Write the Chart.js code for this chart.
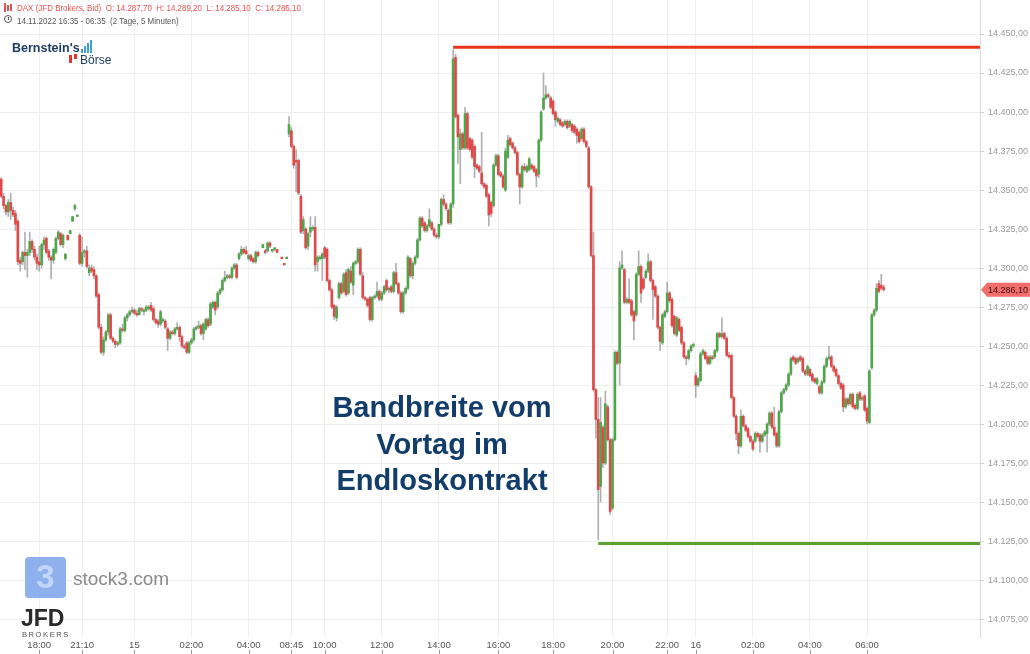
<!DOCTYPE html>
<html><head><meta charset="utf-8">
<script src="https://cdn.jsdelivr.net/npm/chart.js@4.4.0/dist/chart.umd.min.js"></script>
<style>
html,body{margin:0;padding:0;background:#fff;}
#wrap{position:relative;width:1030px;height:654px;overflow:hidden;font-family:"Liberation Sans",Arial,sans-serif;}
#c{position:absolute;left:0;top:0;}
.ov{position:absolute;white-space:pre;line-height:1;}
.nar{transform:scaleX(0.84);transform-origin:0 50%;}
</style></head><body>
<div id="wrap">
<canvas id="c" width="1030" height="654"></canvas>

<div class="ov" style="left:4px;top:3px;width:2px;height:9px;background:#e8534f"></div>
<div class="ov" style="left:7px;top:5px;width:2px;height:6px;background:#e8534f"></div>
<div class="ov" style="left:10px;top:4px;width:2px;height:7px;background:#e8534f"></div>
<div class="ov nar" style="left:17px;top:3px;font-size:9.5px;color:#e8534f;">DAX (JFD Brokers, Bid)  O: 14.287,70  H: 14.289,20  L: 14.285,10  C: 14.286,10</div>
<div class="ov" style="left:4px;top:15px;width:6px;height:6px;border:1.2px solid #555;border-radius:50%;"></div>
<div class="ov" style="left:7.5px;top:17px;width:1px;height:3px;background:#555"></div>
<div class="ov nar" style="left:17px;top:16px;font-size:9.5px;color:#555;">14.11.2022 16:35 - 06:35  (2 Tage, 5 Minuten)</div>

<div class="ov" style="left:12px;top:42px;font-size:12.5px;font-weight:bold;color:#1f3d63;">Bernstein's</div>
<div class="ov" style="left:81px;top:49px;width:2px;height:4px;background:#3ba3e0"></div>
<div class="ov" style="left:84px;top:46px;width:2px;height:7px;background:#3ba3e0"></div>
<div class="ov" style="left:87px;top:43px;width:2px;height:10px;background:#3ba3e0"></div>
<div class="ov" style="left:90px;top:40px;width:2px;height:13px;background:#3ba3e0"></div>
<div class="ov" style="left:69px;top:55px;width:3px;height:8px;background:#e3342f"></div>
<div class="ov" style="left:74px;top:54px;width:3px;height:5px;background:#e3342f"></div>
<div class="ov" style="left:80px;top:54px;font-size:12px;color:#1f3d63;">Börse</div>

<div class="ov" style="left:290px;top:389px;width:304px;text-align:center;font-size:29px;font-weight:bold;color:#123d6a;line-height:36.5px;white-space:normal;">Bandbreite vom<br>Vortag im<br>Endloskontrakt</div>

<div class="ov" style="left:25px;top:557px;width:41px;height:41px;border-radius:4px;background:#8eb1ee;"></div>
<div class="ov" style="left:25px;top:560px;width:41px;text-align:center;font-size:33px;font-weight:bold;color:#c3d6f7;">3</div>
<div class="ov" style="left:73px;top:569px;font-size:19px;color:#8a8a8a;">stock3.com</div>
<div class="ov" style="left:21px;top:607px;font-size:23px;font-weight:bold;color:#2a2a2a;">JFD</div>
<div class="ov" style="left:22px;top:631px;font-size:7.5px;letter-spacing:1.6px;color:#555;">BROKERS</div>
</div>
<script>
// time axis: candle index of each labelled time
const timeTickIndex  = [16, 34, 56, 80, 104, 122, 136, 160, 184, 209, 232, 257, 280, 292, 316, 340, 364];
const timeTickLabels = ['18:00','21:10','15','02:00','04:00','08:45','10:00','12:00','14:00','16:00','18:00','20:00','22:00','16','02:00','04:00','06:00'];

// previous-day range (Bandbreite vom Vortag)
const rangeHigh = 14441.5, rangeHighFrom = 190;
const rangeLow = 14123.5, rangeLowFrom = 251;

const opens = [
14357,14346,14340,14336,14342,14337,14335,14330,14305,14304,
14310,14308,14310,14317,14312,14307,14304,14302,14315,14319,
14311,14307,14305,14310,14319,14322,14315,14306,14321,14322,
14330,14338,14333,14321,14303,14310,14311,14297,14300,14299,
14295,14283,14262,14246,14254,14259,14270,14255,14253,14251,
14252,14261,14260,14268,14270,14272,14273,14271,14270,14274,
14272,14273,14274,14276,14274,14267,14266,14264,14266,14266,
14261,14255,14259,14258,14261,14262,14256,14250,14252,14246,
14252,14254,14261,14262,14263,14258,14261,14267,14264,14275,
14278,14275,14284,14286,14292,14294,14295,14294,14300,14302,
14306,14309,14312,14311,14306,14308,14306,14304,14310,null,
14313,14311,14311,14316,14311,14312,14312,null,14307,14303,
14306,14386,14388,14378,14369,14369,14346,14324,14325,14314,
14323,14325,14326,14304,14306,14306,14313,14312,14292,14286,
14276,14268,14281,14290,14285,14297,14284,14298,14289,14303,
14304,14312,14295,14281,14280,14281,14267,14281,14282,14285,
14280,14284,14292,14286,14288,14285,14297,14290,14284,14272,
14284,14287,14306,14295,14303,14307,14318,14332,14329,14324,
14327,14329,14325,14321,14320,14328,14344,14341,14337,14329,
14341,14435,14398,14376,14386,14377,14399,14383,14382,14378,
14366,14365,14361,14354,14353,14347,14342,14340,14366,14372,
14361,14359,14350,14371,14383,14380,14377,14374,14360,14352,
14365,14362,14363,14366,14365,14363,14360,14382,14402,14409,
14411,14409,14407,14400,14394,14395,14393,14392,14394,14391,
14392,14391,14389,14387,14383,14389,14381,14377,14352,14308,
14222,14203,14160,14198,14175,14211,14190,14146,14190,14246,
14239,14300,14299,14278,14280,14279,14272,14270,14296,14301,
14293,14294,14298,14304,14292,14288,14282,14262,14252,14269,
14272,14284,14280,14269,14257,14267,14262,14252,14243,14242,
14247,14250,14231,14225,14228,14245,14246,14243,14239,14243,
14243,14247,14258,14256,14258,14255,14244,14244,14217,14205,
14194,14186,14205,14199,14197,14192,14189,14189,14194,14193,
14189,14193,14194,14200,14207,14198,14194,14186,14208,14220,
14222,14225,14232,14243,14242,14240,14243,14242,14234,14232,
14235,14232,14229,14226,14224,14220,14227,14237,14242,14243,
14237,14235,14231,14226,14225,14211,14216,14213,14219,14212,
14210,14220,14216,14218,14210,14201,14236,14270,14273,14290,
14289,14287.7];

const highs = [
14358,14348,14341,14344,14348,14339,14337,14331,14307,14311,
14323,14312,14323,14318,14314,14309,14314,14316,14320,14320,
14312,14308,14313,14320,14324,14323,14322,14309,14321,14324,
14333,14341,14334,14322,14320,14312,14314,14302,14302,14301,
14296,14284,14264,14256,14260,14271,14271,14256,14254,14253,
14262,14264,14269,14271,14273,14275,14274,14273,14275,14275,
14274,14276,14276,14278,14275,14268,14267,14273,14268,14267,
14262,14260,14260,14262,14265,14263,14257,14251,14253,14253,
14255,14262,14263,14266,14264,14265,14268,14268,14278,14279,
14279,14285,14287,14293,14298,14296,14296,14301,14303,14303,
14310,14314,14313,14314,14309,14309,14307,14311,14311,null,
14315,14312,14317,14317,14312,14313,14312,null,14307,14303,
14307,14397,14390,14379,14376,14370,14347,14333,14326,14323,
14333,14327,14333,14308,14308,14310,14314,14313,14293,14287,
14277,14276,14291,14291,14297,14299,14300,14301,14304,14305,
14313,14313,14297,14282,14281,14282,14282,14283,14291,14286,
14285,14289,14293,14288,14289,14298,14303,14291,14285,14285,
14288,14308,14307,14304,14308,14319,14333,14333,14330,14328,
14338,14330,14326,14322,14328,14345,14347,14342,14338,14342,
14440,14437,14399,14389,14387,14403,14400,14384,14383,14379,
14367,14366,14387,14355,14354,14348,14343,14367,14373,14373,
14362,14360,14377,14385,14384,14381,14378,14375,14361,14366,
14367,14366,14371,14367,14366,14364,14383,14401,14425,14417,
14412,14410,14408,14401,14397,14396,14394,14395,14395,14395,
14393,14392,14390,14388,14390,14390,14382,14378,14353,14323,
14223,14217,14217,14199,14221,14212,14191,14191,14247,14247,
14304,14311,14300,14281,14293,14280,14273,14297,14311,14302,
14294,14299,14309,14305,14293,14289,14283,14263,14271,14273,
14291,14285,14281,14270,14269,14268,14263,14253,14244,14248,
14251,14252,14233,14230,14246,14248,14247,14244,14244,14244,
14248,14259,14259,14268,14259,14256,14246,14245,14218,14206,
14195,14209,14206,14200,14198,14193,14190,14195,14195,14194,
14194,14196,14201,14208,14208,14211,14195,14209,14221,14223,
14226,14233,14243,14244,14243,14243,14244,14243,14235,14238,
14236,14233,14230,14230,14225,14228,14238,14243,14250,14244,
14238,14236,14232,14227,14226,14217,14217,14220,14220,14213,
14220,14221,14218,14219,14211,14235,14271,14274,14290,14292,
14296,14289.2];

const lows = [
14345,14338,14334,14333,14331,14333,14324,14302,14298,14302,
14299,14294,14308,14310,14305,14299,14298,14300,14312,14309,
14305,14293,14303,14309,14318,14314,14313,14305,14318,14322,
14330,14337,14333,14302,14301,14307,14300,14295,14297,14293,
14281,14261,14245,14244,14253,14257,14254,14252,14249,14250,
14251,14259,14259,14266,14269,14271,14270,14269,14270,14272,
14270,14272,14273,14272,14266,14264,14262,14263,14265,14261,
14247,14254,14257,14257,14260,14253,14249,14248,14245,14245,
14251,14253,14260,14261,14257,14254,14260,14262,14263,14274,
14270,14274,14283,14285,14291,14293,14293,14293,14299,14293,
14305,14308,14309,14309,14305,14304,14303,14303,14307,null,
14313,14309,14310,14313,14310,14311,14310,null,14306,14302,
14306,14384,14377,14364,14349,14347,14322,14322,14312,14312,
14320,14324,14298,14298,14305,14292,14306,14291,14285,14274,
14267,14266,14280,14283,14284,14282,14283,14290,14283,14302,
14303,14295,14280,14279,14275,14266,14266,14280,14281,14279,
14279,14283,14285,14284,14284,14284,14289,14283,14271,14271,
14283,14286,14294,14293,14302,14306,14317,14326,14323,14323,
14326,14324,14320,14319,14319,14327,14340,14337,14328,14328,
14339,14396,14367,14354,14376,14376,14376,14375,14370,14358,
14363,14361,14353,14351,14345,14327,14333,14339,14365,14359,
14358,14351,14349,14370,14378,14376,14373,14359,14341,14351,
14362,14361,14362,14363,14361,14352,14358,14381,14401,14408,
14409,14402,14398,14391,14393,14391,14390,14391,14389,14390,
14387,14386,14380,14380,14382,14380,14377,14351,14307,14221,
14191,14126,14150,14172,14174,14189,14142,14145,14189,14238,
14225,14299,14277,14277,14277,14269,14254,14269,14295,14278,
14286,14293,14297,14291,14267,14281,14261,14247,14251,14268,
14271,14278,14262,14257,14256,14259,14251,14242,14238,14241,
14246,14249,14217,14224,14227,14244,14241,14238,14238,14241,
14242,14246,14255,14255,14254,14243,14242,14216,14204,14190,
14181,14185,14198,14195,14191,14188,14183,14188,14191,14182,
14188,14192,14182,14199,14197,14192,14185,14185,14207,14219,
14221,14224,14231,14240,14238,14239,14240,14233,14231,14231,
14230,14227,14226,14225,14219,14219,14226,14236,14241,14236,
14233,14230,14225,14222,14208,14210,14212,14212,14210,14209,
14209,14215,14215,14208,14200,14200,14235,14269,14272,14284,
14286,14285.1];

const closes = [
14346,14340,14336,14342,14337,14334,14328,14304,14303,14310,
14308,14310,14317,14312,14307,14303,14302,14315,14318,14310,
14307,14305,14312,14319,14323,14315,14321,14309,14318,14324,
14333,14340,14334,14303,14310,14311,14301,14300,14298,14295,
14282,14262,14246,14254,14259,14270,14255,14253,14251,14252,
14261,14260,14268,14270,14272,14273,14271,14270,14274,14273,
14273,14275,14275,14273,14267,14265,14264,14272,14267,14262,
14255,14259,14258,14261,14262,14256,14250,14249,14246,14252,
14254,14261,14262,14263,14258,14264,14267,14263,14277,14278,
14273,14284,14286,14292,14294,14295,14294,14300,14302,14294,
14309,14312,14310,14309,14308,14305,14304,14310,14308,null,
14315,14310,14316,14314,14312,14313,14310,null,14306,14302,
14307,14392,14378,14366,14368,14348,14323,14331,14313,14322,
14326,14326,14302,14307,14307,14309,14307,14292,14286,14275,
14269,14275,14290,14284,14296,14283,14299,14291,14303,14304,
14312,14296,14281,14280,14276,14267,14281,14282,14285,14280,
14284,14288,14286,14287,14285,14297,14290,14284,14272,14284,
14287,14307,14295,14303,14307,14318,14332,14327,14324,14327,
14331,14325,14321,14320,14328,14344,14341,14338,14329,14341,
14434,14397,14384,14386,14377,14399,14377,14376,14371,14365,
14364,14362,14354,14352,14346,14334,14335,14366,14372,14360,
14359,14352,14375,14382,14379,14377,14374,14360,14352,14365,
14363,14365,14370,14364,14362,14359,14382,14400,14409,14411,
14410,14403,14399,14395,14396,14392,14391,14394,14390,14394,
14388,14387,14385,14381,14389,14381,14378,14352,14308,14222,
14203,14158,14201,14175,14213,14190,14144,14190,14246,14239,
14300,14302,14278,14280,14278,14270,14266,14296,14301,14284,
14287,14298,14304,14292,14286,14282,14262,14253,14270,14272,
14284,14279,14263,14258,14268,14260,14252,14243,14242,14247,
14250,14251,14225,14229,14245,14247,14242,14239,14243,14242,
14247,14258,14256,14258,14255,14244,14243,14217,14205,14194,
14186,14205,14199,14196,14192,14189,14184,14194,14192,14189,
14193,14195,14200,14207,14198,14193,14186,14208,14220,14222,
14225,14232,14242,14241,14239,14242,14241,14234,14232,14237,
14231,14228,14227,14229,14220,14227,14237,14242,14243,14237,
14234,14231,14226,14223,14211,14216,14213,14219,14211,14210,
14219,14216,14217,14209,14202,14234,14270,14273,14287,14285,
14287,14286.1];

function fmtDe(v) {
  const s = Number(v).toFixed(2).split('.');
  return s[0].replace(/\B(?=(\d{3})+(?!\d))/g, '.') + ',' + s[1];
}

const UP = '#4fa54a', DOWN = '#e14848';
const idx = opens.map((o, i) => i).filter(i => opens[i] !== null);
const wickData = idx.map(i => ({x: i, y: [lows[i], highs[i]]}));
const bodyData = idx.map(i => ({x: i, y: [opens[i], closes[i]]}));
const bodyColors = idx.map(i => closes[i] >= opens[i] ? UP : DOWN);
const lastIdx = closes.length - 1;

const priceTag = {
  id: 'priceTag',
  afterDraw(chart) {
    const ys = chart.scales.y, xs = chart.scales.x, ctx = chart.ctx;
    // small tick marks under the time labels
    ctx.save();
    ctx.strokeStyle = '#999';
    ctx.lineWidth = 1;
    timeTickIndex.forEach(v => {
      const px = Math.round(xs.getPixelForValue(v)) + 0.5;
      ctx.beginPath(); ctx.moveTo(px, 650); ctx.lineTo(px, 654); ctx.stroke();
    });
    // last price tag
    const y = ys.getPixelForValue(closes[lastIdx]);
    const x0 = chart.chartArea.right + 1;
    ctx.fillStyle = '#f26d6b';
    ctx.beginPath();
    ctx.moveTo(x0, y);
    ctx.lineTo(x0 + 6, y - 7);
    ctx.lineTo(1030, y - 7);
    ctx.lineTo(1030, y + 7);
    ctx.lineTo(x0 + 6, y + 7);
    ctx.closePath();
    ctx.fill();
    ctx.fillStyle = '#3a1010';
    ctx.font = '9px "Liberation Sans", Arial, sans-serif';
    ctx.textBaseline = 'middle';
    ctx.textAlign = 'left';
    ctx.fillText(fmtDe(closes[lastIdx]), x0 + 7, y + 0.5);
    ctx.restore();
  }
};

Chart.defaults.font.family = '"Liberation Sans", Arial, sans-serif';

new Chart(document.getElementById('c'), {
  type: 'bar',
  data: {
    datasets: [
      {type: 'line', data: [{x: rangeHighFrom, y: rangeHigh}, {x: 411.5, y: rangeHigh}], borderColor: '#e8341c', borderWidth: 3, pointRadius: 0, order: 1},
      {type: 'line', data: [{x: rangeLowFrom, y: rangeLow}, {x: 411.5, y: rangeLow}], borderColor: '#5c9e31', borderWidth: 3, pointRadius: 0, order: 1},
      {data: bodyData, backgroundColor: bodyColors, barThickness: 2, grouped: false, minBarLength: 1, order: 2},
      {data: wickData, backgroundColor: 'rgba(150,150,150,0.75)', barThickness: 1, grouped: false, order: 3}
    ]
  },
  options: {
    responsive: false,
    animation: false,
    layout: {padding: 0},
    plugins: {legend: {display: false}, tooltip: {enabled: false}},
    scales: {
      x: {
        type: 'linear', min: -0.5, max: 411.5, offset: false,
        grid: {color: '#efefef', drawTicks: false, offset: false},
        border: {display: false},
        afterBuildTicks: s => { s.ticks = timeTickIndex.map(v => ({value: v})); },
        afterFit: s => { s.height = 17; s.paddingLeft = 0; s.paddingRight = 0; },
        ticks: {autoSkip: false, maxRotation: 0, padding: 3, color: '#555', font: {size: 9.5},
                callback: v => timeTickLabels[timeTickIndex.indexOf(v)]}
      },
      y: {
        position: 'right', min: 14063.5, max: 14471.8,
        grid: {color: '#efefef', tickLength: 4, tickColor: '#cfcfcf'},
        border: {display: true, color: '#dcdcdc'},
        afterBuildTicks: s => { s.ticks = s.ticks.filter(t => Math.abs(t.value % 25) < 1e-6); },
        afterFit: s => { s.width = 50; s.paddingTop = 0; s.paddingBottom = 0; },
        ticks: {stepSize: 25, padding: 4, color: '#9a9a9a', font: {size: 9}, callback: v => fmtDe(v)}
      }
    }
  },
  plugins: [priceTag]
});
</script>
</body></html>
